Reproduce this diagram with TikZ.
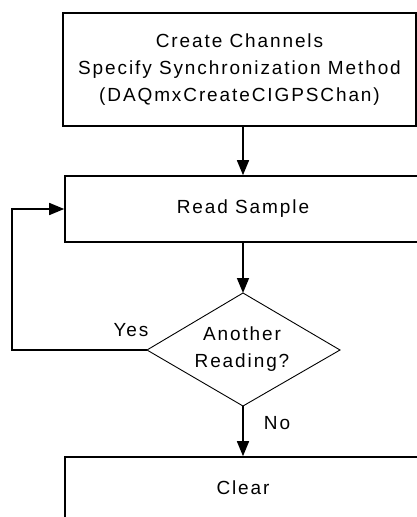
\documentclass[tikz,border=0pt]{standalone}
\usepackage{fontspec}
\setmainfont{Liberation Sans}[LetterSpace=10]
\usetikzlibrary{arrows.meta}
\begin{document}
\begin{tikzpicture}[x=1pt,y=-1pt,
  every node/.style={font=\fontsize{19}{27}\selectfont, inner sep=0pt},
  procbox/.style={draw, line width=1.6pt, align=center},
  arr/.style={line width=1.6pt, -{Triangle[length=15pt,width=12pt]}},
  plainline/.style={line width=1.6pt},
  lbl/.style={}
]
\useasboundingbox (0,0) rectangle (417,517);
\clip (0,0) rectangle (417,517);
\fill[white] (0,0) rectangle (417,517);

% process boxes
\node[procbox, minimum width=353pt, minimum height=113pt] (create) at (239.5,69.5)
  {Create Channels\\Specify Synchronization Method\\(DAQmxCreateCIGPSChan)};
\node[procbox, minimum width=356pt, minimum height=66pt] (read) at (243,209) {Read Sample};
\node[procbox, minimum width=356pt, minimum height=62pt] (clear) at (243,488) {Clear};

% decision diamond
\coordinate (dt) at (243,293);
\coordinate (dr) at (340,350);
\coordinate (db) at (243,406);
\coordinate (dl) at (147,350);
\draw[line width=0.9pt] (dt) -- (dr) -- (db) -- (dl) -- cycle;
\node[align=center] (q) at (242,349) {Another\\Reading?};

% connectors
\coordinate (loop) at (12,350);
\draw[arr] (create.south -| read.north) -- (read.north);
\draw[arr] (read.south) -- (dt);
\draw[arr] (db) -- (clear.north);
\draw[arr] (dl) -- (loop) |- (read.west);

% labels
\node[lbl] (yes) at (131,330) {Yes};
\node[lbl] (no) at (277,423) {No};
\end{tikzpicture}
\end{document}
